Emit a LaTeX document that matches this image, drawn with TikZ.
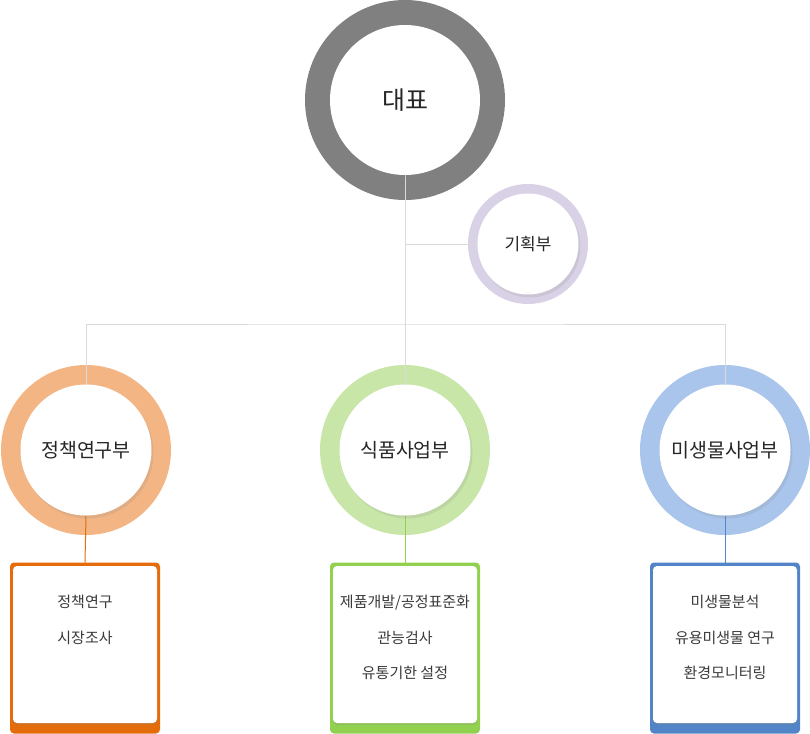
\documentclass[tikz,border=0pt]{standalone}
\usepackage{fontspec}
\setmainfont{Noto Sans CJK KR}
\usetikzlibrary{shadows}

\pgfdeclarelayer{back}
\pgfdeclarelayer{mid}
\pgfsetlayers{back,mid,main}

\definecolor{ceoring}{HTML}{808080}
\definecolor{planring}{HTML}{D9D2E6}
\definecolor{policyring}{HTML}{F3B584}
\definecolor{foodring}{HTML}{C9E6A9}
\definecolor{microring}{HTML}{A9C5EB}
\definecolor{policybox}{HTML}{E46C0A}
\definecolor{foodbox}{HTML}{92D050}
\definecolor{microbox}{HTML}{5285C8}
\definecolor{linkgray}{HTML}{DADADA}
\definecolor{titletext}{HTML}{262626}
\definecolor{itemtext}{HTML}{3A3A3A}

\tikzset{
  ring/.style={circle, inner sep=0pt, outer sep=0pt},
  core/.style={circle, fill=white, inner sep=0pt, outer sep=0pt, text=titletext,
    drop shadow={shadow xshift=2pt, shadow yshift=-3pt, opacity=.16}},
  frame/.style={rectangle, rounded corners=4pt, inner sep=0pt, outer sep=0pt,
    minimum width=150pt, minimum height=171pt},
  sheet/.style={rectangle, rounded corners=4pt, fill=white, inner sep=0pt, outer sep=0pt,
    minimum width=144pt, minimum height=157pt,
    drop shadow={shadow xshift=0pt, shadow yshift=-2pt, opacity=.2}},
  items/.style={align=center, inner sep=0pt, text=itemtext,
    font=\fontsize{15}{35.5}\selectfont},
  link/.style={draw=linkgray, line width=1pt},
}

\begin{document}
\begin{tikzpicture}[x=1pt,y=-1pt]
\useasboundingbox (0,0) rectangle (810,733);

% rings
\begin{pgfonlayer}{back}
\node[ring, fill=ceoring, minimum size=200pt] (ceo ring) at (405,100) {};
\node[ring, fill=planring, minimum size=120pt] (plan ring) at (528,244) {};
\node[ring, fill=policyring, minimum size=170pt] (policy ring) at (86,450) {};
\node[ring, fill=foodring, minimum size=170pt] (food ring) at (405,450) {};
\node[ring, fill=microring, minimum size=170pt] (micro ring) at (725,450) {};
\end{pgfonlayer}

% inner circles
\node[core, minimum size=150pt, font=\fontsize{25}{25}\selectfont] (ceo) at (ceo ring) {대표};
\node[core, minimum size=101pt, font=\fontsize{17}{17}\selectfont] (plan) at (plan ring) {기획부};
\node[core, minimum size=131pt, font=\fontsize{19.5}{19.5}\selectfont] (policy) at (policy ring) {정책연구부};
\node[core, minimum size=131pt, font=\fontsize{19.5}{19.5}\selectfont] (food) at (food ring) {식품사업부};
\node[core, minimum size=131pt, font=\fontsize{19.5}{19.5}\selectfont] (micro) at (micro ring) {미생물사업부};

% boxes
\node[frame, fill=policybox] (policy box) at (85,648) {};
\node[frame, fill=foodbox] (food box) at (405,648) {};
\node[frame, fill=microbox] (micro box) at (725,648) {};
\node[sheet] (policy sheet) at (85,644.5) {};
\node[sheet] (food sheet) at (405,644.5) {};
\node[sheet] (micro sheet) at (725,644.5) {};

\node[items, anchor=north] (policy items) at (85,595) {정책연구\\시장조사};
\node[items, anchor=north] (food items) at (405,595) {제품개발/공정표준화\\관능검사\\유통기한 설정};
\node[items, anchor=north] (micro items) at (725,595) {미생물분석\\유용미생물 연구\\환경모니터링};

% connectors
\begin{pgfonlayer}{mid}
\coordinate (bus) at (405,324);
\draw[link] (ceo.south) -- (food.north);
\draw[link] (plan.west) -- (plan.west -| ceo.south);
\draw[link] (policy.north) |- (bus) -| (micro.north);
\draw[draw=policybox, line width=1pt] (policy.south) -- (policy box.north);
\draw[draw=foodbox, line width=1pt] (food.south) -- (food box.north);
\draw[draw=microbox, line width=1pt] (micro.south) -- (micro box.north);
\end{pgfonlayer}
\end{tikzpicture}
\end{document}
